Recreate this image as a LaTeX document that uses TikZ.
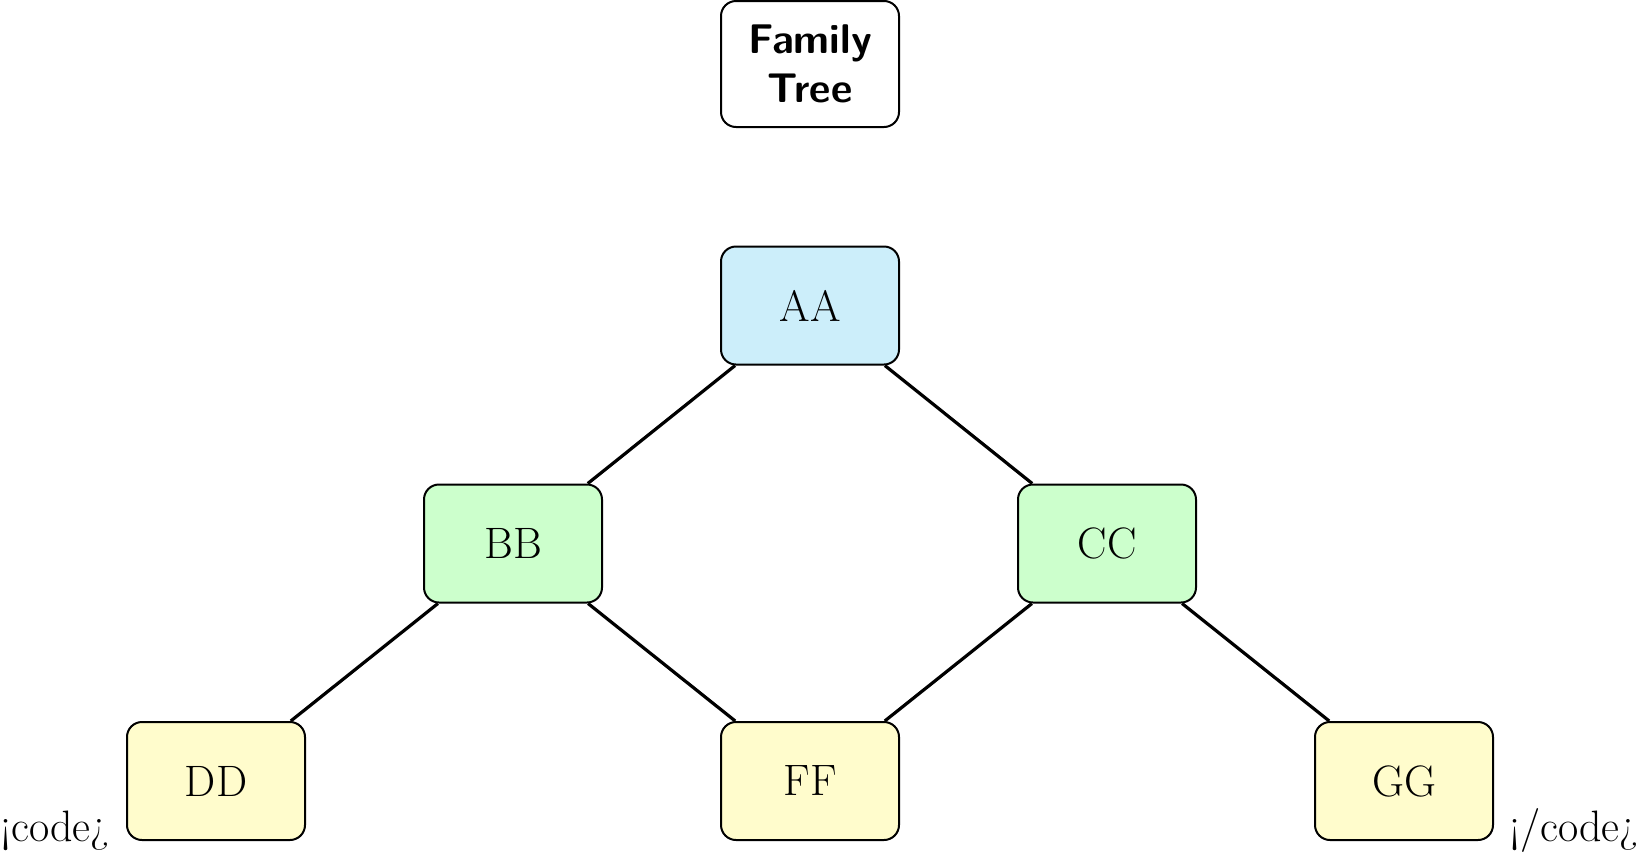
\documentclass[tikz,border=0pt]{standalone}
\begin{document}
\begin{tikzpicture}[x=1pt,y=-1pt,
  person/.style={draw, line width=2pt, rounded corners=15pt, minimum width=178pt, minimum height=118pt, inner sep=0pt, font=\fontsize{44}{52}\selectfont},
  titlebox/.style={draw, line width=2pt, rounded corners=15pt, minimum width=178pt, minimum height=126pt, inner sep=0pt, align=center, font=\fontsize{41.5}{49}\selectfont\sffamily\bfseries},
  link/.style={line width=3.2pt},
  plain/.style={inner sep=0pt, font=\fontsize{44}{52}\selectfont}]
\definecolor{rootblue}{RGB}{204,238,250}
\definecolor{kidgreen}{RGB}{204,255,204}
\definecolor{leafyellow}{RGB}{255,252,204}
\useasboundingbox (0,0) rectangle (1642,852);
\node[titlebox] (title) at (810,64) {Family\\Tree};
\node[person, fill=rootblue] (AA) at (810,305.5) {AA};
\node[person, fill=kidgreen] (BB) at (513,543.5) {BB};
\node[person, fill=kidgreen] (CC) at (1107,543.5) {CC};
\node[person, fill=leafyellow] (DD) at (216,781) {DD};
\node[person, fill=leafyellow] (FF) at (810,781) {FF};
\node[person, fill=leafyellow] (GG) at (1404,781) {GG};
\draw[link] (AA) -- (BB);
\draw[link] (AA) -- (CC);
\draw[link] (BB) -- (DD);
\draw[link] (BB) -- (FF);
\draw[link] (CC) -- (FF);
\draw[link] (CC) -- (GG);
\node[plain, anchor=base west] (codeopen) at (0,841) {¡code¿};
\node[plain, anchor=base east] (codeclose) at (1639,841) {¡/code¿};
\end{tikzpicture}
\end{document}
